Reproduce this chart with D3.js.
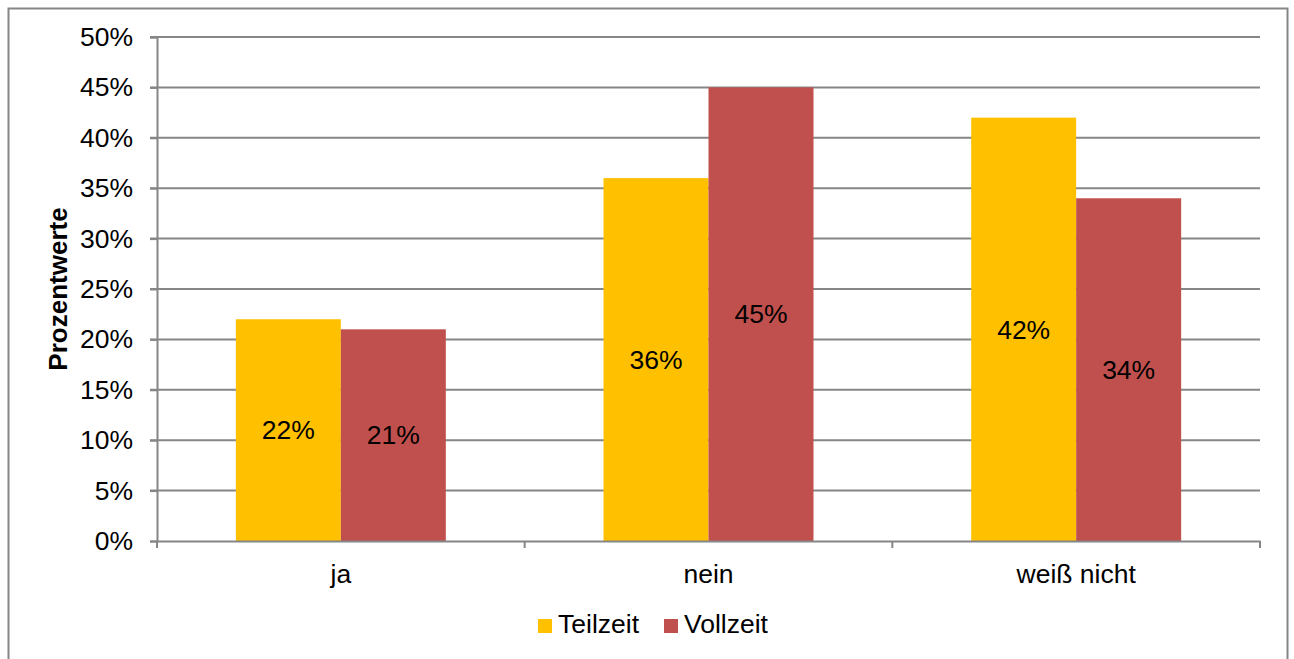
<!DOCTYPE html>
<html>
<head>
<meta charset="utf-8">
<script src="https://cdn.jsdelivr.net/npm/d3@7"></script>
<style>
  html, body { margin: 0; padding: 0; background: #fff; }
  svg { display: block; font-family: "Liberation Sans", Arial, sans-serif; }
</style>
</head>
<body>
<svg id="chart" width="1294" height="659"></svg>
<script>
// Antwortkategorien, Reihen und Werte (Prozent)
const categories = ["ja", "nein", "weiß nicht"];
const seriesNames = ["Teilzeit", "Vollzeit"];
const teilzeit = [22, 36, 42];
const vollzeit = [21, 45, 34];
const yTicks = [0, 5, 10, 15, 20, 25, 30, 35, 40, 45, 50];
const colors = ["#FFC000", "#C0504D"];

const FONT = "'Liberation Sans', Arial, sans-serif";
const FS = 26.5;

const svg = d3.select("#chart");
const W = 1294, H = 659;
const margin = { left: 157, right: 34, top: 37, bottom: 118 };
const x0 = margin.left, x1 = W - margin.right;
const yTop = margin.top, yBot = H - margin.bottom;

// Außenrahmen
svg.append("rect")
  .attr("x", 8.5).attr("y", 8.5)
  .attr("width", 1279).attr("height", 660)
  .attr("fill", "none").attr("stroke", "#868686").attr("stroke-width", 2);

const x = d3.scaleBand().domain(categories).range([x0, x1]).paddingInner(0).paddingOuter(0);
const xs = d3.scaleBand().domain(seriesNames).range([0, x.bandwidth()]).paddingInner(0).paddingOuter(0.751);
const y = d3.scaleLinear().domain([0, 50]).range([yBot, yTop]);

// Gitterlinien
svg.append("g").selectAll("line")
  .data(yTicks.filter(d => d > 0))
  .join("line")
  .attr("x1", x0 - 7).attr("x2", x1)
  .attr("y1", d => y(d)).attr("y2", d => y(d))
  .attr("stroke", "#868686").attr("stroke-width", 2);

// Balken
const data = categories.map((c, i) => ({ cat: c, vals: [teilzeit[i], vollzeit[i]] }));
const groups = svg.append("g").selectAll("g")
  .data(data).join("g")
  .attr("transform", d => `translate(${x(d.cat)},0)`);

groups.selectAll("rect")
  .data(d => d.vals.map((v, j) => ({ s: seriesNames[j], v, j })))
  .join("rect")
  .attr("x", d => xs(d.s))
  .attr("width", xs.bandwidth())
  .attr("y", d => y(d.v))
  .attr("height", d => y(0) - y(d.v))
  .attr("fill", d => colors[d.j]);

// Datenbeschriftungen in der Balkenmitte
groups.selectAll("text")
  .data(d => d.vals.map((v, j) => ({ s: seriesNames[j], v, j })))
  .join("text")
  .attr("x", d => xs(d.s) + xs.bandwidth() / 2)
  .attr("y", d => (y(d.v) + y(0)) / 2)
  .attr("dy", "0.35em")
  .attr("text-anchor", "middle")
  .attr("font-size", FS)
  .attr("font-family", FONT)
  .attr("fill", "#000")
  .text(d => d.v + "%");

// Y-Achse
const yAxis = svg.append("g")
  .attr("transform", `translate(${x0},0)`)
  .call(d3.axisLeft(y).tickValues(yTicks).tickFormat(d => d + "%").tickSize(7).tickPadding(17));
yAxis.select(".domain").attr("stroke", "#868686").attr("stroke-width", 2);
yAxis.selectAll(".tick line").attr("stroke", "#868686").attr("stroke-width", 2);
yAxis.selectAll(".tick text").attr("font-size", FS).attr("fill", "#000").attr("font-family", FONT);

// X-Achse
const xAxis = svg.append("g")
  .attr("transform", `translate(0,${yBot})`)
  .call(d3.axisBottom(x).tickSize(0).tickPadding(23));
xAxis.select(".domain").attr("stroke", "#868686").attr("stroke-width", 2);
xAxis.selectAll(".tick text").attr("font-size", FS).attr("fill", "#000").attr("font-family", FONT);
// Trennstriche zwischen den Kategorien
const bounds = categories.map(c => x(c)).concat([x1]);
svg.append("g").selectAll("line")
  .data(bounds).join("line")
  .attr("x1", d => d).attr("x2", d => d)
  .attr("y1", yBot).attr("y2", yBot + 7)
  .attr("stroke", "#868686").attr("stroke-width", 2);

// Y-Achsentitel
svg.append("text")
  .attr("transform", `translate(67,${(yTop + yBot) / 2}) rotate(-90)`)
  .attr("text-anchor", "middle")
  .attr("font-size", 26).attr("font-weight", "bold").attr("font-family", FONT)
  .text("Prozentwerte");

// Legende
const legendX = [538, 664];
seriesNames.forEach((s, i) => {
  const g = svg.append("g").attr("transform", `translate(${legendX[i]},619)`);
  g.append("rect").attr("width", 14).attr("height", 14).attr("fill", colors[i]);
  g.append("text").attr("x", 20).attr("y", 14)
    .attr("font-size", FS).attr("font-family", FONT).text(s);
});
</script>
</body>
</html>
